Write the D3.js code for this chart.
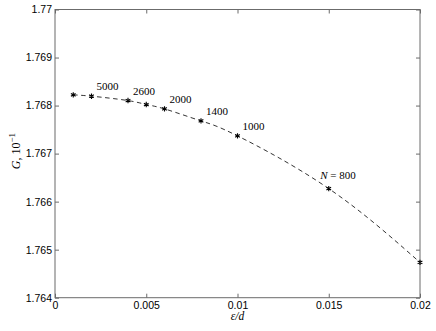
<!DOCTYPE html>
<html>
<head>
<meta charset="utf-8">
<script src="https://cdn.jsdelivr.net/npm/d3@7"></script>
<style>
  body { margin:0; background:#fff; }
  svg { display:block; }
</style>
</head>
<body>
<svg id="graph"></svg>
<script>
// data
var epsd = [0.001, 0.002, 0.004, 0.005, 0.006, 0.008, 0.01, 0.015, 0.02];
var G = [1.768223, 1.768195, 1.768104, 1.768021, 1.767931, 1.767681, 1.767369, 1.766271, 1.764735];
var nLabels = ["", "5000", "2600", "", "2000", "1400", "1000", "N = 800", ""];
var xTicks = [0, 0.005, 0.01, 0.015, 0.02];
var xTickLabels = ["0", "0.005", "0.01", "0.015", "0.02"];
var yTicks = [1.764, 1.765, 1.766, 1.767, 1.768, 1.769, 1.77];
var yTickLabels = ["1.764", "1.765", "1.766", "1.767", "1.768", "1.769", "1.77"];

width = 436;
height = 331;
margin = {left:55, right:16, top:9.5, bottom:33.3};
w = width - margin.left - margin.right;
h = height - margin.top - margin.bottom;

sans = "'Liberation Sans', Arial, Helvetica, sans-serif";
serif = "'Liberation Serif', 'Times New Roman', Times, serif";
axisColor = "#6b6b6b";

svg = d3.select("#graph").attr("width", width).attr("height", height);
chart = svg.append("g")
    .attr("transform", "translate(" + margin.left + "," + margin.top + ")");

x = d3.scaleLinear().domain([0, 0.02]).range([0, w]);
y = d3.scaleLinear().domain([1.764, 1.77]).range([h, 0]);

// axes, MATLAB style ticks pointing inwards
function styleAxis(g) {
    g.select(".domain").remove();
    g.attr("font-family", sans).attr("font-size", 10.5);
    g.selectAll(".tick line").attr("stroke", axisColor);
    g.selectAll(".tick text").attr("fill", "#000");
}
chart.append("g")
    .attr("transform", "translate(0," + h + ")")
    .call(d3.axisBottom(x).tickValues(xTicks).tickSizeInner(-4).tickSizeOuter(0)
        .tickPadding(3.5).tickFormat((d, i) => xTickLabels[i]))
    .call(styleAxis);
chart.append("g")
    .call(d3.axisTop(x).tickValues(xTicks).tickSizeInner(-4).tickSizeOuter(0).tickFormat(""))
    .call(styleAxis);
chart.append("g")
    .call(d3.axisLeft(y).tickValues(yTicks).tickSizeInner(-4).tickSizeOuter(0)
        .tickPadding(3).tickFormat((d, i) => yTickLabels[i]))
    .call(styleAxis);
chart.append("g")
    .attr("transform", "translate(" + w + ",0)")
    .call(d3.axisRight(y).tickValues(yTicks).tickSizeInner(-4).tickSizeOuter(0).tickFormat(""))
    .call(styleAxis);

// frame
chart.append("rect")
    .attr("width", w).attr("height", h)
    .attr("fill", "none").attr("stroke", axisColor).attr("stroke-width", 1);

// dashed curve
pts = epsd.map((d, i) => [d, G[i]]);
line = d3.line()
    .x((d) => x(d[0]))
    .y((d) => y(d[1]))
    .curve(d3.curveNatural);
chart.append("path")
    .datum(pts)
    .attr("d", line)
    .attr("fill", "none")
    .attr("stroke", "#000")
    .attr("stroke-width", 0.8)
    .attr("stroke-dasharray", "4.5,3.5");

// asterisk markers
star = d3.symbol().type(d3.symbolAsterisk).size(20);
chart.selectAll(".pt")
    .data(pts)
    .enter().append("path")
        .attr("class", "pt")
        .attr("transform", (d) => "translate(" + x(d[0]) + "," + y(d[1]) + ")")
        .attr("d", star)
        .attr("stroke", "#000")
        .attr("stroke-width", 1.1);

// N labels
lbl = chart.selectAll(".nlab")
    .data(pts)
    .enter().append("text")
        .attr("class", "nlab")
        .attr("x", (d, i) => x(d[0]) + (i == 7 ? -8.5 : 5))
        .attr("y", (d, i) => y(d[1]) - (i == 7 ? 10 : 6))
        .attr("font-family", serif)
        .attr("font-size", 11)
        .attr("fill", "#000");
lbl.each(function(d, i) {
    var t = nLabels[i];
    if (t.indexOf("N") == 0) {
        d3.select(this).append("tspan").attr("font-style", "italic").text("N");
        d3.select(this).append("tspan").text(t.substr(1));
    } else {
        d3.select(this).text(t);
    }
});

// axis titles
xl = svg.append("text")
    .attr("x", margin.left + w / 2)
    .attr("y", 319.5)
    .attr("text-anchor", "middle")
    .attr("font-family", serif)
    .attr("font-size", 11.5)
    .attr("font-style", "italic")
    .text("\u03b5/d");

yl = svg.append("text")
    .attr("transform", "translate(20,151) rotate(-90)")
    .attr("text-anchor", "middle")
    .attr("font-family", serif)
    .attr("font-size", 12);
yl.append("tspan").attr("font-style", "italic").text("G");
yl.append("tspan").text(", 10");
yl.append("tspan").attr("dy", -5).attr("font-size", 9).text("\u22121");
</script>
</body>
</html>
